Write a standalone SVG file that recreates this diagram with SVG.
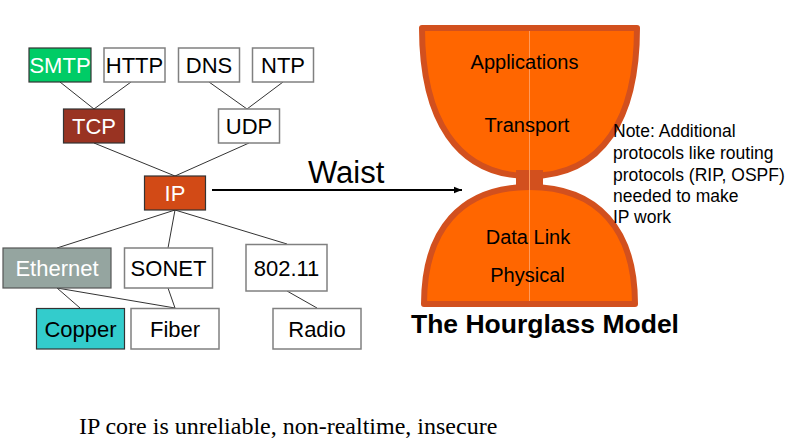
<svg xmlns="http://www.w3.org/2000/svg" width="793" height="443" viewBox="0 0 793 443">
<style>
  .lbl { font-family: "Liberation Sans", Arial, sans-serif; font-size: 22px; text-anchor: middle; dominant-baseline: central; fill: #000; }
  .lbl2 { font-family: "Liberation Sans", Arial, sans-serif; font-size: 22px; text-anchor: middle; dominant-baseline: central; fill: #000; }
  .wt { fill: #fff; }
  .box { fill: #fff; stroke: #808080; stroke-width: 1.5; }
  .dark { stroke: #333; stroke-width: 1.2; }
  .conn line { stroke: #333; stroke-width: 1; }
  .hg { fill: #FF6600; stroke: #D2501E; stroke-width: 6; stroke-linejoin: round; }
  .hgt { font-family: "Liberation Sans", Arial, sans-serif; font-size: 20px; text-anchor: middle; fill: #000; }
  .note { font-family: "Liberation Sans", Arial, sans-serif; font-size: 17.5px; fill: #000; }
</style>
<defs>
  <marker id="arr" viewBox="0 0 10 10" refX="10" refY="5" markerWidth="4" markerHeight="4" orient="auto" markerUnits="strokeWidth">
    <path d="M0,1 L10,5 L0,9 Z" fill="#000"/>
  </marker>
</defs>
<rect width="793" height="443" fill="#fff"/>

<g id="connectors" class="conn">
  <line x1="60" y1="82" x2="94" y2="109"/>
  <line x1="131" y1="82" x2="94" y2="109"/>
  <line x1="209" y1="82" x2="247" y2="109"/>
  <line x1="283" y1="82" x2="247" y2="109"/>
  <line x1="94" y1="143" x2="175" y2="176"/>
  <line x1="249" y1="143" x2="175" y2="176"/>
  <line x1="175" y1="210" x2="57" y2="248"/>
  <line x1="175" y1="210" x2="168" y2="248"/>
  <line x1="175" y1="210" x2="287" y2="244"/>
  <line x1="57" y1="288" x2="80" y2="308"/>
  <line x1="57" y1="288" x2="175" y2="308"/>
  <line x1="168" y1="288" x2="175" y2="308"/>
  <line x1="287" y1="291" x2="317" y2="308"/>
  <line x1="212" y1="190" x2="462" y2="190" marker-end="url(#arr)" style="stroke:#000;stroke-width:2"/>
</g>

<g id="node-smtp">
  <rect x="29" y="48" width="62" height="34" fill="#00CC66" class="dark"/>
  <text x="60" y="65" class="lbl wt">SMTP</text>
</g>
<g id="node-http">
  <rect x="104" y="48" width="61" height="34" class="box"/>
  <text x="134.5" y="65" class="lbl">HTTP</text>
</g>
<g id="node-dns">
  <rect x="178.5" y="48" width="61" height="34" class="box"/>
  <text x="209" y="65" class="lbl">DNS</text>
</g>
<g id="node-ntp">
  <rect x="252.5" y="48" width="61" height="34" class="box"/>
  <text x="283" y="65" class="lbl">NTP</text>
</g>
<g id="node-tcp">
  <rect x="63.5" y="109" width="61" height="34" fill="#993322" class="dark"/>
  <text x="94" y="126" class="lbl wt">TCP</text>
</g>
<g id="node-udp">
  <rect x="218.5" y="109" width="61" height="34" class="box"/>
  <text x="249" y="126" class="lbl">UDP</text>
</g>
<g id="node-ip">
  <rect x="144.5" y="176" width="61" height="34" fill="#D24A16" class="dark"/>
  <text x="175" y="193" class="lbl wt">IP</text>
</g>
<g id="node-ethernet">
  <rect x="3" y="248" width="108" height="40" fill="#95A5A0" stroke="#555" stroke-width="1.2"/>
  <text x="57" y="268.5" class="lbl2 wt">Ethernet</text>
</g>
<g id="node-sonet">
  <rect x="124.5" y="248" width="88" height="40" class="box"/>
  <text x="168.5" y="268.5" class="lbl2">SONET</text>
</g>
<g id="node-80211">
  <rect x="246" y="244.5" width="81" height="46.5" class="box"/>
  <text x="286.5" y="268" class="lbl2">802.11</text>
</g>
<g id="node-copper">
  <rect x="36.5" y="308.5" width="88" height="40.5" fill="#33CCCC" class="dark"/>
  <text x="80.5" y="329" class="lbl2">Copper</text>
</g>
<g id="node-fiber">
  <rect x="131" y="308.5" width="88" height="40.5" class="box"/>
  <text x="175" y="329" class="lbl2">Fiber</text>
</g>
<g id="node-radio">
  <rect x="273" y="308.5" width="88" height="40.5" class="box"/>
  <text x="317" y="329" class="lbl2">Radio</text>
</g>

<text x="308" y="183" font-family="Liberation Sans, Arial, sans-serif" font-size="31" fill="#000">Waist</text>

<g id="hourglass">
  <path class="hg" d="M422,28 L637,28 C637,118 603,176 529.5,176 C456,176 422,118 422,28 Z"/>
  <path class="hg" d="M424,304 C424,230 461,187 529.5,187 C598,187 635,230 635,304 Z"/>
  <rect x="516" y="170" width="27" height="18" fill="#D2501E"/>
  <line x1="529.5" y1="31" x2="529.5" y2="301" stroke="#FF9A5C" stroke-width="1"/>
  <text x="524.5" y="69" class="hgt">Applications</text>
  <text x="527" y="131.5" class="hgt">Transport</text>
  <text x="528" y="244" class="hgt">Data Link</text>
  <text x="527.5" y="281.5" class="hgt">Physical</text>
</g>

<g id="note">
  <text class="note" x="613" y="137">Note: Additional</text>
  <text class="note" x="613" y="159">protocols like routing</text>
  <text class="note" x="613" y="180.5">protocols (RIP, OSPF)</text>
  <text class="note" x="613" y="202">needed to make</text>
  <text class="note" x="613" y="223">IP work</text>
</g>

<text x="545" y="333" font-family="Liberation Sans, Arial, sans-serif" font-size="26.5" font-weight="bold" text-anchor="middle" fill="#000">The Hourglass Model</text>

<text x="79" y="434" font-family="Liberation Serif, Times New Roman, serif" font-size="24" fill="#000">IP core is unreliable, non-realtime, insecure</text>
</svg>
